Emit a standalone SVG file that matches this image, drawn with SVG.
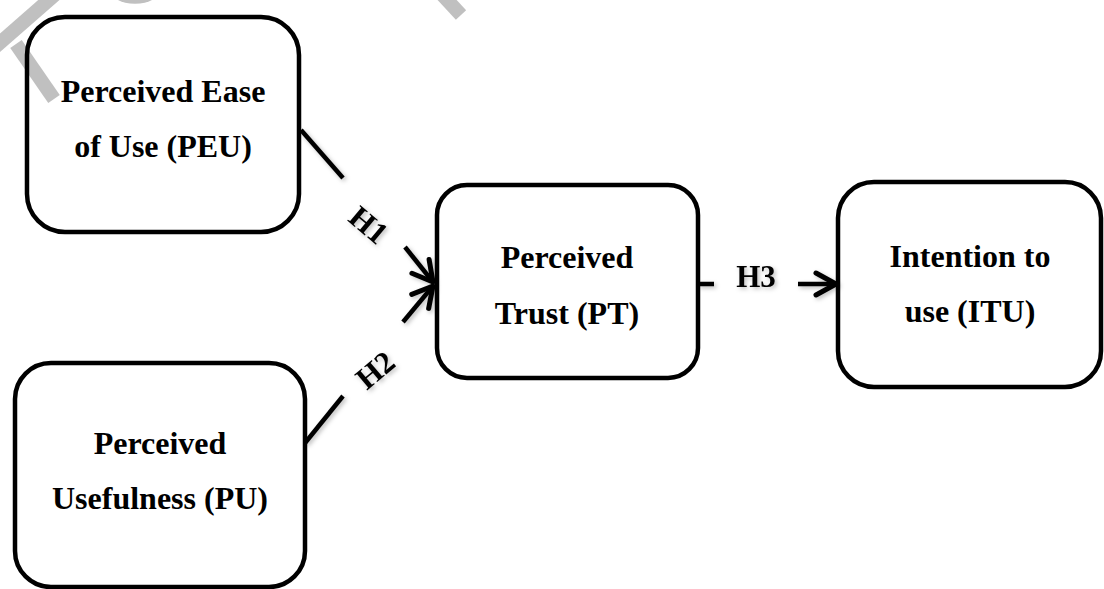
<svg xmlns="http://www.w3.org/2000/svg" width="1104" height="589" viewBox="0 0 1104 589">
<style>
.box{fill:none;stroke:#000;stroke-width:4.5}
.lbl{font-family:"Liberation Serif","Times New Roman",serif;font-weight:bold;font-size:32px;fill:#000;text-anchor:middle}
.hl{font-family:"Liberation Serif","Times New Roman",serif;font-weight:bold;font-size:31px;fill:#000;text-anchor:middle}
.ln{fill:none;stroke:#000;stroke-width:4.5;stroke-linecap:butt}
.wm{fill:none;stroke:#c0c0c0;stroke-width:14}
</style>
<defs>
<marker id="arr" markerUnits="userSpaceOnUse" markerWidth="30" markerHeight="30" viewBox="0 0 30 30" refX="22" refY="15" orient="auto" overflow="visible">
<path d="M2,4 L22,15 L2,26" fill="none" stroke="#000" stroke-width="5" stroke-linecap="round" stroke-linejoin="round"/>
</marker>
<filter id="sh" x="-20%" y="-20%" width="140%" height="140%">
<feDropShadow dx="2" dy="2" stdDeviation="2" flood-color="#000" flood-opacity="0.25"/>
</filter>
</defs>
<rect width="1104" height="589" fill="#fff"/>
<g id="watermark">
<line class="wm" x1="-6" y1="48" x2="58" y2="-8"/>
<line class="wm" x1="16" y1="44" x2="54" y2="99"/>
<path d="M118,0 A20,8 0 0 0 152,0 Z" fill="#c0c0c0"/>
<line class="wm" x1="436" y1="-12" x2="461" y2="15"/>
</g>
<g id="connectors" filter="url(#sh)">
<line class="ln" x1="301" y1="130" x2="343" y2="178"/>
<line class="ln" x1="405" y1="247" x2="433" y2="282" marker-end="url(#arr)"/>
<line class="ln" x1="305" y1="443" x2="343" y2="396"/>
<line class="ln" x1="403" y1="322" x2="433" y2="286" marker-end="url(#arr)"/>
<line class="ln" x1="698" y1="284" x2="714" y2="284"/>
<line class="ln" x1="798" y1="284" x2="836" y2="284" marker-end="url(#arr)"/>
<text class="hl" transform="translate(362,233) rotate(40)">H1</text>
<text class="hl" transform="translate(382,378) rotate(-40)">H2</text>
<text class="hl" x="756" y="287">H3</text>
</g>
<g id="PEU">
<rect class="box" x="27" y="17" width="272" height="215" rx="38" ry="38"/>
<text class="lbl" x="163" y="102">Perceived Ease</text>
<text class="lbl" x="163" y="157">of Use (PEU)</text>
</g>
<g id="PU">
<rect class="box" x="15" y="363" width="290" height="224" rx="36" ry="36"/>
<text class="lbl" x="160" y="454">Perceived</text>
<text class="lbl" x="160" y="509">Usefulness (PU)</text>
</g>
<g id="PT">
<rect class="box" x="437" y="185" width="261" height="193" rx="30" ry="30"/>
<text class="lbl" x="567" y="268">Perceived</text>
<text class="lbl" x="567" y="324">Trust (PT)</text>
</g>
<g id="ITU">
<rect class="box" x="838" y="182" width="263" height="205" rx="36" ry="36"/>
<text class="lbl" x="970" y="267">Intention to</text>
<text class="lbl" x="970" y="322">use (ITU)</text>
</g>
</svg>
